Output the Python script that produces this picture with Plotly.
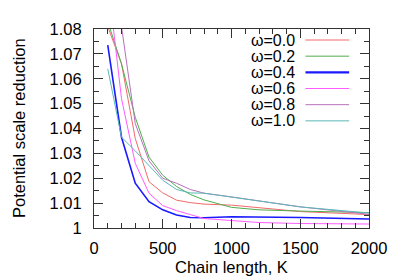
import plotly.graph_objects as go

# ---- data ----
K = [100, 200, 300, 400, 500, 600, 700, 800, 1000, 1200, 1500, 2000]
omega_labels = ["ω=0.0", "ω=0.2", "ω=0.4", "ω=0.6", "ω=0.8", "ω=1.0"]
r_w00 = [1.081, 1.066, 1.036, 1.0186, 1.0141, 1.0112, 1.0102, 1.0096, 1.0092, 1.0082, 1.0066, 1.0054]
r_w02 = [1.083, 1.066, 1.0445, 1.0285, 1.0212, 1.0167, 1.0135, 1.0113, 1.0083, 1.0073, 1.0068, 1.0062]
r_w04 = [1.0735, 1.0365, 1.018, 1.0106, 1.0073, 1.0052, 1.0042, 1.0041, 1.0045, 1.0045, 1.0042, 1.0036]
r_w06 = [1.100, 1.052, 1.026, 1.014, 1.009, 1.007, 1.0054, 1.0038, 1.003, 1.0022, 1.0018, 1.0016]
r_w08 = [1.160, 1.081, 1.042, 1.027, 1.020, 1.018, 1.0155, 1.014, 1.0125, 1.011, 1.0085, 1.0055]
r_w10 = [1.064, 1.0365, 1.031, 1.025, 1.0192, 1.0155, 1.0141, 1.014, 1.0125, 1.011, 1.0085, 1.006]
series = [r_w00, r_w02, r_w04, r_w06, r_w08, r_w10]

x_ticks = [0, 500, 1000, 1500, 2000]
y_ticks = [1.0, 1.01, 1.02, 1.03, 1.04, 1.05, 1.06, 1.07, 1.08]
y_ticktext = ["1", "1.01", "1.02", "1.03", "1.04", "1.05", "1.06", "1.07", "1.08"]

# ---- styles ----
colors = ["#f26a6a", "#4fae4f", "#1a1aff", "#ff5cff", "#b871b8", "#5cb8b8"]
widths = [1, 1, 1.6, 1, 1, 1]
FONT = "Liberation Sans, Arial, sans-serif"
FS = 16.5
FS_LEG = 16
AX = "#333333"

fig = go.Figure()
for s, c, w, name in zip(series, colors, widths, omega_labels):
    fig.add_trace(go.Scatter(x=K, y=s, mode="lines", name=name,
                             line=dict(color=c, width=w), showlegend=False))

# page body has an 8px margin; positions below are in window pixels
OFF = 8
plot_top, plot_h, plot_left, plot_w = 20, 208, 94, 277

def px_x(p):
    return (p - plot_left) / plot_w

def px_y(p):
    return (plot_top + plot_h - p) / plot_h

# manual gnuplot-style legend (text right-aligned, sample to the right)
LEG_TOP, LEG_STEP = 31.5, 16.9
for i, (name, c, w) in enumerate(zip(omega_labels, colors, widths)):
    yp = px_y(LEG_TOP + i * LEG_STEP)
    fig.add_annotation(x=px_x(297), y=yp, xref="paper", yref="paper",
                       text=name, showarrow=False, xanchor="right", yanchor="middle",
                       font=dict(family=FONT, size=FS_LEG, color="black"), borderpad=0)
    fig.add_shape(type="line", xref="paper", yref="paper",
                  x0=px_x(307), x1=px_x(351), y0=yp, y1=yp,
                  line=dict(color=c, width=w + 0.5 if w > 1 else w))

# axis titles
fig.add_annotation(x=0.5, y=px_y(269), xref="paper", yref="paper",
                   text="Chain length, K", showarrow=False, xanchor="center", yanchor="middle",
                   font=dict(family=FONT, size=FS, color="black"))
fig.add_annotation(x=px_x(18), y=0.5, xref="paper", yref="paper",
                   text="Potential scale reduction", showarrow=False, textangle=-90,
                   xanchor="center", yanchor="middle",
                   font=dict(family=FONT, size=FS, color="black"))

fig.update_xaxes(range=[0, 2000], tickvals=x_ticks, ticks="inside", ticklen=9,
                 tickcolor=AX, showline=True, linecolor=AX, linewidth=1, mirror="allticks",
                 showgrid=False, zeroline=False, ticklabelstandoff=5,
                 tickfont=dict(family=FONT, size=FS, color="black"),
                 minor=dict(dtick=100, ticks="inside", ticklen=5, tickcolor=AX, showgrid=False))
fig.update_yaxes(range=[1.0, 1.08], tickvals=y_ticks, ticktext=y_ticktext, ticks="inside",
                 ticklen=9, tickcolor=AX, showline=True, linecolor=AX, linewidth=1,
                 mirror="allticks", showgrid=False, zeroline=False, ticklabelstandoff=8,
                 tickfont=dict(family=FONT, size=FS, color="black"),
                 minor=dict(dtick=0.005, tick0=1.0, ticks="inside", ticklen=5, tickcolor=AX,
                            showgrid=False))
fig.update_layout(width=399 - OFF, height=279 - OFF,
                  margin=dict(l=plot_left - OFF, r=399 - plot_left - plot_w,
                              t=plot_top - OFF, b=279 - plot_top - plot_h, pad=0),
                  plot_bgcolor="white", paper_bgcolor="white", showlegend=False)

fig.write_html("out.html")
